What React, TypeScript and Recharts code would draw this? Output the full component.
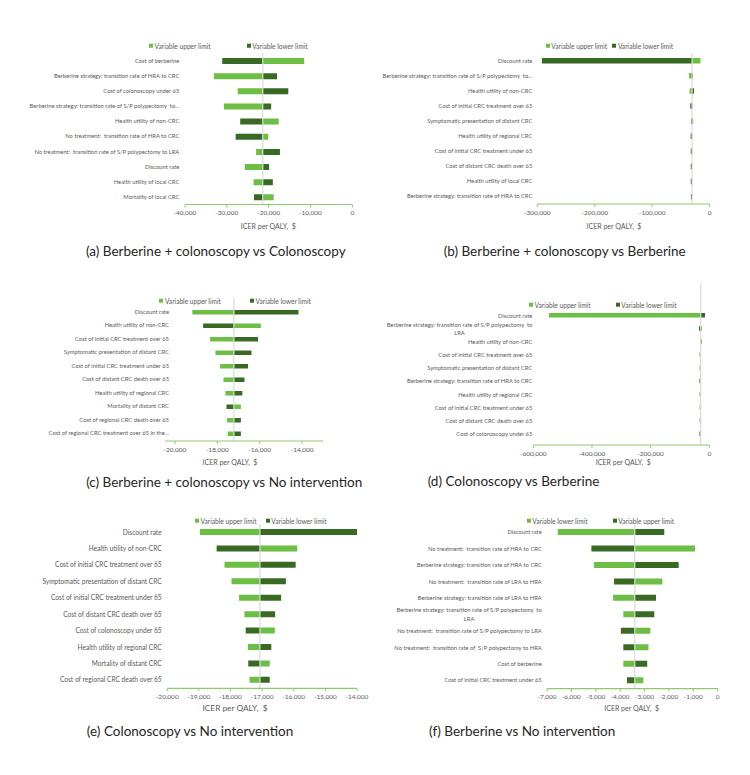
import React, { useLayoutEffect, useRef, useState } from 'react';
import { BarChart, Bar, XAxis, YAxis, ReferenceLine } from 'recharts';

const LIGHT = '#6DBE45';
const DARK = '#386A24';
const AXIS_GREEN = '#8FC96E';
const BASE_LINE = '#DADADA';
const TEXT = '#595959';
const FONT = 'Lato, "Liberation Sans", sans-serif';

const UPPER = 'Variable upper limit';
const LOWER = 'Variable lower limit';

// (a) Berberine + colonoscopy vs Colonoscopy
const labelsA = [
  'Cost of berberine',
  'Berberine strategy: transition rate of HRA to CRC',
  'Cost of colonoscopy under 65',
  'Berberine strategy: transition rate of S/P polypectomy  to...',
  'Health utility of non-CRC',
  'No treatment:  transition rate of HRA to CRC',
  'No treatment:  transition rate of S/P polypectomy to LRA',
  'Discount rate',
  'Health utility of local CRC',
  'Mortality of local CRC',
];
const upperA = [-11500, -33100, -27400, -30700, -17600, -20100, -23000, -25700, -23600, -18800];
const lowerA = [-31100, -18000, -15300, -19400, -26800, -27900, -17300, -19900, -19000, -23500];
const baseA = -21400;
const ticksA = [-40000, -30000, -20000, -10000, 0];

// (b) Berberine + colonoscopy vs Berberine
const labelsB = [
  'Discount rate',
  'Berberine strategy: transition rate of S/P polypectomy  to...',
  'Health utility of non-CRC',
  'Cost of initial CRC treatment over 65',
  'Symptomatic presentation of distant CRC',
  'Health utility of regional CRC',
  'Cost of initial CRC treatment under 65',
  'Cost of distant CRC death over 65',
  'Health utility of local CRC',
  'Berberine strategy: transition rate of HRA to CRC',
];
const upperB = [-16000, -35900, -34800, -29800, -28600, -30400, -30400, -30400, -30400, -30500];
const lowerB = [-292000, -29000, -27300, -33800, -32500, -33200, -33000, -33000, -33000, -32800];
const baseB = -30700;
const ticksB = [-300000, -200000, -100000, 0];

// (c) Berberine + colonoscopy vs No intervention
const labelsC = [
  'Discount rate',
  'Health utility of non-CRC',
  'Cost of initial CRC treatment over 65',
  'Symptomatic presentation of distant CRC',
  'Cost of initial CRC treatment under 65',
  'Cost of distant CRC death over 65',
  'Health utility of regional CRC',
  'Mortality of distant CRC',
  'Cost of regional CRC death over 65',
  'Cost of regional CRC treatment over 65 in the...',
];
const upperC = [-19180, -15950, -18340, -18090, -17870, -17710, -17620, -16890, -17540, -17510];
const lowerC = [-14170, -18670, -16080, -16390, -16550, -16720, -16820, -17570, -16890, -16890];
const baseC = -17220;
const ticksC = [-20000, -18000, -16000, -14000];

// (d) Colonoscopy vs Berberine
const labelsD = [
  'Discount rate',
  'Berberine strategy: transition rate of S/P polypectomy  to\nLRA',
  'Health utility of non-CRC',
  'Cost of initial CRC treatment over 65',
  'Symptomatic presentation of distant CRC',
  'Berberine strategy: transition rate of HRA to CRC',
  'Health utility of regional CRC',
  'Cost of initial CRC treatment under 65',
  'Cost of distant CRC death over 65',
  'Cost of colonoscopy under 65',
];
const upperD = [-546500, -24900, -24500, -33500, -33300, -29800, -33400, -33200, -33300, -29800];
const lowerD = [-14700, -35100, -31500, -28900, -28800, -33600, -28900, -28800, -28900, -33700];
const baseD = -29300;
const ticksD = [-600000, -400000, -200000, 0];

// (e) Colonoscopy vs No intervention
const labelsE = [
  'Discount rate',
  'Health utility of non-CRC',
  'Cost of initial CRC treatment over 65',
  'Symptomatic presentation of distant CRC',
  'Cost of initial CRC treatment under 65',
  'Cost of distant CRC death over 65',
  'Cost of colonoscopy under 65',
  'Health utility of regional CRC',
  'Mortality of distant CRC',
  'Cost of regional CRC death over 65',
];
const upperE = [-18970, -15890, -18190, -17970, -17730, -17560, -16600, -17450, -16760, -17400];
const lowerE = [-14000, -18440, -15940, -16250, -16400, -16590, -17520, -16710, -17440, -16760];
const baseE = -17070;
const ticksE = [-20000, -19000, -18000, -17000, -16000, -15000, -14000];

// (f) Berberine vs No intervention
const labelsF = [
  'Discount rate',
  'No treatment:  transition rate of HRA to CRC',
  'Berberine strategy: transition rate of HRA to CRC',
  'No treatment:  transition rate of LRA to HRA',
  'Berberine strategy: transition rate of LRA to HRA',
  'Berberine strategy: transition rate of S/P polypectomy  to\nLRA',
  'No treatment:  transition rate of S/P polypectomy to LRA',
  'No treatment:  transition rate of  S/P polypectomy to HRA',
  'Cost of berberine',
  'Cost of initial CRC treatment under 65',
];
const lowerF = [-6560, -930, -5070, -2270, -4290, -3870, -2760, -2840, -3870, -3050];
const upperF = [-2190, -5180, -1600, -4250, -2530, -2600, -3970, -3870, -2890, -3720];
const baseF = -3400;
const ticksF = [-7000, -6000, -5000, -4000, -3000, -2000, -1000, 0];

type Layout = {
  col: number;
  plot: { l: number; r: number; t: number; b: number; padT: number; padB: number };
  barSize: number;
  catFont: number;
  catGap: number;
  lineGap: number;
  tickFont: number;
  legend: { y: number; x1: number; x2: number };
  title: { x: number; y: number; size: number };
  cap: { x: number; y: number };
};

type Spec = {
  caption: string;
  labels: string[];
  lightValues: number[];
  darkValues: number[];
  lightName: string;
  darkName: string;
  base: number;
  domain: [number, number];
  ticks: number[];
  layout: Layout;
};

const span = (a: number, b: number): [number, number] => (a < b ? [a, b] : [b, a]);

function CategoryLabel({ x, y, text, fontSize, lineGap }: { x: number; y: number; text: string; fontSize: number; lineGap: number }) {
  const lines = text.split('\n');
  const ref = useRef<SVGTextElement>(null);
  const [w, setW] = useState(0);
  useLayoutEffect(() => {
    if (ref.current) setW(ref.current.getComputedTextLength());
  }, [text, fontSize]);
  const top = y - ((lines.length - 1) * lineGap) / 2;
  const style: React.CSSProperties = { whiteSpace: 'pre' };
  return (
    <g>
      <text ref={ref} x={x} y={top} dy="0.35em" textAnchor="end" fontSize={fontSize} fill={TEXT} fontFamily={FONT} style={style}>
        {lines[0]}
      </text>
      {lines.slice(1).map((line, i) => (
        <text key={i} x={x - w / 2} y={top + (i + 1) * lineGap} dy="0.35em" textAnchor="middle" fontSize={fontSize} fill={TEXT} fontFamily={FONT} style={style}>
          {line}
        </text>
      ))}
    </g>
  );
}

function LegendItem({ x, y, color, text }: { x: number; y: number; color: string; text: string }) {
  return (
    <div
      style={{
        position: 'absolute',
        left: x,
        top: y,
        transform: 'translateY(-50%)',
        display: 'flex',
        alignItems: 'center',
        fontFamily: FONT,
        fontSize: 6.6,
        color: TEXT,
        whiteSpace: 'nowrap',
        lineHeight: 1,
      }}
    >
      <span style={{ display: 'inline-block', width: 4, height: 4, background: color, marginRight: 1.6 }} />
      <span>{text}</span>
    </div>
  );
}

function Panel({ spec }: { spec: Spec }) {
  const { layout: L } = spec;
  const left = L.col * 375;
  const top = L.plot.t - 10;
  const width = 375;
  const height = L.plot.b - top + 26;
  const xAxisHeight = 20;
  const yAxisWidth = L.plot.l - left;
  const margin = {
    top: L.plot.t - top,
    right: left + width - L.plot.r,
    bottom: top + height - L.plot.b - xAxisHeight,
    left: 0,
  };
  const data = spec.labels.map((name, i) => ({
    name,
    light: span(spec.base, spec.lightValues[i]),
    dark: span(spec.base, spec.darkValues[i]),
  }));
  const labelX = L.plot.l - left - L.catGap;
  const pad = { top: L.plot.padT, bottom: L.plot.padB };

  return (
    <>
      <div style={{ position: 'absolute', left, top }}>
        <BarChart width={width} height={height} data={data} layout="vertical" margin={margin}>
          <XAxis
            type="number"
            domain={spec.domain}
            ticks={spec.ticks}
            interval={0}
            allowDataOverflow
            height={xAxisHeight}
            tickFormatter={(v: number) => v.toLocaleString('en-US')}
            tick={{ fontSize: L.tickFont, fill: TEXT, fontFamily: FONT }}
            axisLine={{ stroke: AXIS_GREEN, strokeWidth: 1.2 }}
            tickLine={{ stroke: AXIS_GREEN }}
            tickSize={3}
            tickMargin={3}
          />
          <YAxis
            yAxisId="cat"
            type="category"
            dataKey="name"
            width={yAxisWidth}
            interval={0}
            axisLine={false}
            tickLine={false}
            padding={pad}
            tick={(p: any) => (
              <CategoryLabel x={labelX} y={p.y} text={String(p.payload.value)} fontSize={L.catFont} lineGap={L.lineGap} />
            )}
          />
          <YAxis yAxisId="cat2" type="category" dataKey="name" hide padding={pad} />
          <Bar yAxisId="cat" dataKey="light" name={spec.lightName} fill={LIGHT} barSize={L.barSize} isAnimationActive={false} />
          <Bar yAxisId="cat2" dataKey="dark" name={spec.darkName} fill={DARK} barSize={L.barSize} isAnimationActive={false} />
          <ReferenceLine yAxisId="cat" x={spec.base} stroke={BASE_LINE} strokeWidth={1.2} />
        </BarChart>
      </div>
      <LegendItem x={L.legend.x1} y={L.legend.y} color={LIGHT} text={spec.lightName} />
      <LegendItem x={L.legend.x2} y={L.legend.y} color={DARK} text={spec.darkName} />
      <div
        style={{
          position: 'absolute',
          left: L.title.x,
          top: L.title.y,
          transform: 'translate(-50%, -50%)',
          fontFamily: FONT,
          fontSize: L.title.size,
          color: TEXT,
          whiteSpace: 'pre',
          lineHeight: 1,
        }}
      >
        {'ICER per QALY,  $'}
      </div>
      <div
        style={{
          position: 'absolute',
          left: L.cap.x,
          top: L.cap.y,
          transform: 'translate(-50%, -50%)',
          fontFamily: FONT,
          fontSize: 13.5,
          color: '#262626',
          whiteSpace: 'nowrap',
          lineHeight: 1,
        }}
      >
        {spec.caption}
      </div>
    </>
  );
}

const panels: Spec[] = [
  {
    caption: '(a) Berberine + colonoscopy vs Colonoscopy',
    labels: labelsA, lightValues: upperA, darkValues: lowerA, lightName: UPPER, darkName: LOWER,
    base: baseA, domain: [-40000, 0], ticks: ticksA,
    layout: {
      col: 0, plot: { l: 185, r: 352.3, t: 52.5, b: 204, padT: 0, padB: 0 },
      barSize: 6, catFont: 5.8, catGap: 5.7, lineGap: 7.7, tickFont: 6.5,
      legend: { y: 45.7, x1: 149, x2: 246.7 }, title: { x: 268.3, y: 225.7, size: 7 }, cap: { x: 215.8, y: 251.7 },
    },
  },
  {
    caption: '(b) Berberine + colonoscopy vs Berberine',
    labels: labelsB, lightValues: upperB, darkValues: lowerB, lightName: UPPER, darkName: LOWER,
    base: baseB, domain: [-300000, 0], ticks: ticksB,
    layout: {
      col: 1, plot: { l: 537.3, r: 709.7, t: 53, b: 204, padT: 0, padB: 0 },
      barSize: 5.5, catFont: 5.8, catGap: 5, lineGap: 7.7, tickFont: 6.5,
      legend: { y: 45.7, x1: 545.7, x2: 612.3 }, title: { x: 614, y: 226, size: 7 }, cap: { x: 564.7, y: 251.7 },
    },
  },
  {
    caption: '(c) Berberine + colonoscopy vs No intervention',
    labels: labelsC, lightValues: upperC, darkValues: lowerC, lightName: UPPER, darkName: LOWER,
    base: baseC, domain: [-20470, -13000], ticks: ticksC,
    layout: {
      col: 0, plot: { l: 165, r: 323.3, t: 298, b: 441, padT: 7, padB: 1 },
      barSize: 4.5, catFont: 5.8, catGap: -4, lineGap: 7.7, tickFont: 6.5,
      legend: { y: 301, x1: 159.3, x2: 250 }, title: { x: 230, y: 461.7, size: 7 }, cap: { x: 224.2, y: 482.7 },
    },
  },
  {
    caption: '(d) Colonoscopy vs Berberine',
    labels: labelsD, lightValues: upperD, darkValues: lowerD, lightName: UPPER, darkName: LOWER,
    base: baseD, domain: [-600000, 0], ticks: ticksD,
    layout: {
      col: 1, plot: { l: 533.3, r: 709.3, t: 283, b: 445, padT: 26, padB: 4.4 },
      barSize: 4.5, catFont: 5.8, catGap: 1, lineGap: 7.7, tickFont: 6.5,
      legend: { y: 305, x1: 529, x2: 615.7 }, title: { x: 623.3, y: 462.3, size: 7 }, cap: { x: 513.5, y: 482.3 },
    },
  },
  {
    caption: '(e) Colonoscopy vs No intervention',
    labels: labelsE, lightValues: upperE, darkValues: lowerE, lightName: UPPER, darkName: LOWER,
    base: baseE, domain: [-20000, -14000], ticks: ticksE,
    layout: {
      col: 0, plot: { l: 167.3, r: 357, t: 524, b: 688.3, padT: 0, padB: 0 },
      barSize: 6, catFont: 6.6, catGap: 5.6, lineGap: 8.3, tickFont: 6.5,
      legend: { y: 520.7, x1: 195, x2: 265.7 }, title: { x: 235, y: 707.7, size: 8.3 }, cap: { x: 190, y: 731.7 },
    },
  },
  {
    caption: '(f) Berberine vs No intervention',
    labels: labelsF, lightValues: lowerF, darkValues: upperF, lightName: LOWER, darkName: UPPER,
    base: baseF, domain: [-7000, 0], ticks: ticksF,
    layout: {
      col: 1, plot: { l: 547, r: 717.7, t: 524, b: 688.7, padT: 0, padB: 0 },
      barSize: 6, catFont: 5.8, catGap: 5.3, lineGap: 8.3, tickFont: 6.5,
      legend: { y: 520.7, x1: 526.7, x2: 612.7 }, title: { x: 631.7, y: 707.7, size: 7 }, cap: { x: 522.2, y: 731.7 },
    },
  },
];

export default function App() {
  return (
    <div style={{ position: 'absolute', left: 0, top: 0, width: 750, height: 775, background: '#ffffff', overflow: 'hidden' }}>
      {panels.map((p) => (
        <Panel key={p.caption} spec={p} />
      ))}
    </div>
  );
}
